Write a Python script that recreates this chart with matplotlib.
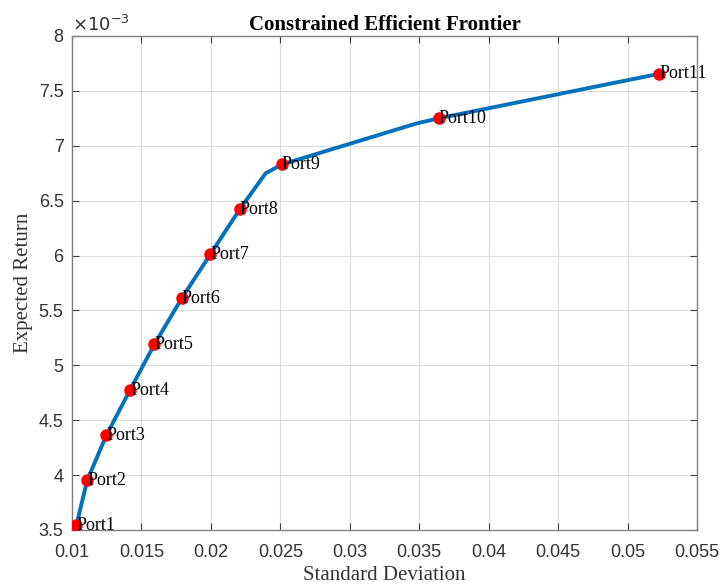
import matplotlib.pyplot as plt
import numpy as np
from matplotlib.ticker import FuncFormatter, MultipleLocator

# portfolio points
port_sd = [0.01031, 0.0111, 0.01247, 0.01418, 0.01593, 0.0179, 0.01996,
           0.02207, 0.02512, 0.0364, 0.05229]
port_ret = [3.543e-3, 3.953e-3, 4.362e-3, 4.775e-3, 5.191e-3, 5.61e-3,
            6.011e-3, 6.42e-3, 6.83e-3, 7.25e-3, 7.656e-3]
port_names = [f"Port{i + 1}" for i in range(len(port_sd))]

# frontier line (includes the two kinks between portfolios)
front_sd = [0.01031, 0.0111, 0.01247, 0.01418, 0.01593, 0.0179, 0.01996,
            0.02207, 0.02394, 0.02512, 0.03482, 0.0364, 0.05229]
front_ret = [3.543e-3, 3.953e-3, 4.362e-3, 4.775e-3, 5.191e-3, 5.61e-3,
             6.011e-3, 6.42e-3, 6.749e-3, 6.83e-3, 7.204e-3, 7.25e-3, 7.656e-3]

serif = 'Liberation Serif'
sans = 'Liberation Sans'

fig = plt.figure(figsize=(7.21, 5.87), dpi=100)
ax = fig.add_axes([72 / 721, 57 / 587, 625 / 721, 494 / 587])

ax.plot(front_sd, front_ret, color='#0072BD', lw=2.8, zorder=3)
ax.plot(port_sd, port_ret, 'o', color='#FF0000', ms=8, zorder=4)
for x, y, n in zip(port_sd, port_ret, port_names):
    ax.text(x, y, n, family=serif, fontsize=13, ha='left', va='center', zorder=5)

ax.set_xlim(0.01, 0.055)
ax.set_ylim(3.5e-3, 8e-3)
ax.xaxis.set_major_locator(MultipleLocator(0.005))
ax.yaxis.set_major_locator(MultipleLocator(0.5e-3))
ax.xaxis.set_major_formatter(FuncFormatter(lambda v, p: f"{v:g}"))
ax.yaxis.set_major_formatter(FuncFormatter(lambda v, p: f"{v * 1e3:g}"))

ax.grid(True, color='#dcdcdc', lw=0.8)
ax.set_axisbelow(True)
ax.tick_params(direction='in', top=True, right=True, length=5, width=0.8,
               color='#404040', labelsize=13, labelcolor='#333333')
ax.tick_params(axis='x', pad=10)
ax.tick_params(axis='y', pad=6)
for lab in ax.get_xticklabels() + ax.get_yticklabels():
    lab.set_family(sans)
for s in ax.spines.values():
    s.set_color('#808080')
    s.set_linewidth(1.0)

ax.text(0.0, 1.003, r'$\times10^{-3}$', transform=ax.transAxes, family=sans,
        fontsize=13, color='#333333', ha='left', va='bottom')
ax.set_title('Constrained Efficient Frontier', family=serif, fontsize=15,
             fontweight='bold', pad=4)
ax.set_xlabel('Standard Deviation', family=serif, fontsize=15, color='#333333', labelpad=4)
ax.set_ylabel('Expected Return', family=serif, fontsize=15, color='#333333', labelpad=4)

fig.savefig('out.png', dpi=100)
